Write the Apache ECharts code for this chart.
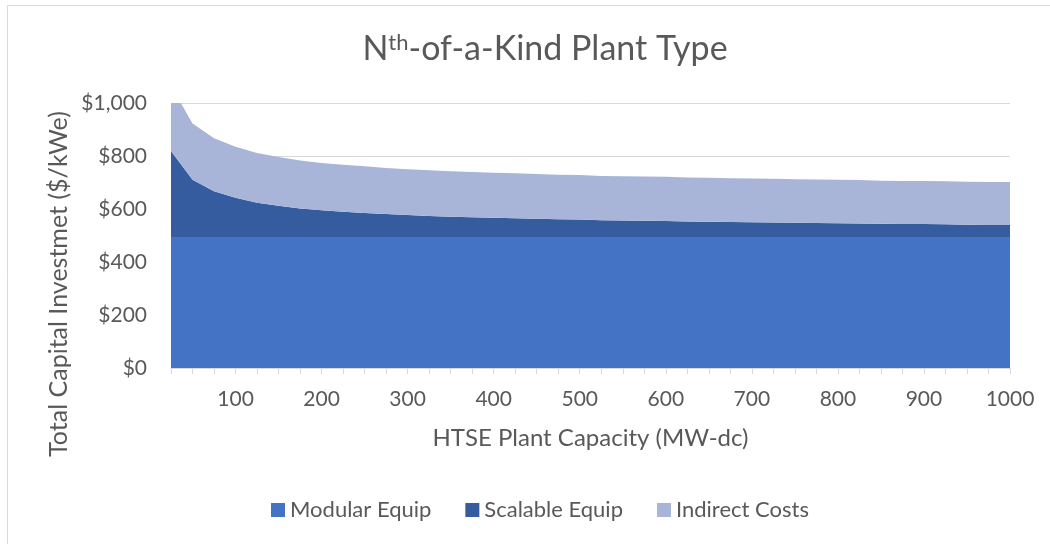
<!DOCTYPE html>
<html>
<head>
<meta charset="utf-8">
<script src="https://cdn.jsdelivr.net/npm/echarts@6/dist/echarts.min.js"></script>
<style>
html,body{margin:0;padding:0;background:#fff;}
#chart{width:1050px;height:544px;}
</style>
</head>
<body>
<div id="chart"></div>
<script>
var capacities = [25,50,75,100,125,150,175,200,225,250,275,300,325,350,375,400,425,450,475,500,525,550,575,600,625,650,675,700,725,750,775,800,825,850,875,900,925,950,975,1000];
var modularEquip = [494,494,494,494,494,494,494,494,494,494,494,494,494,494,494,494,494,494,494,494,494,494,494,494,494,494,494,494,494,494,494,494,494,494,494,494,494,494,494,494];
var scalableEquip = [325,216,173,148,130,118,108,101,96,91,87,83,80,77,75,73,71,69,67,66,64,63,62,61,59,58,57,56,55,54,53,52,51,50,49,49,48,47,46,46];
var indirectCosts = [246,213,200,193,187,184,181,179,177,176,174,173,172,171,171,170,170,169,168,168,167,167,167,167,166,166,165,165,165,164,164,164,164,163,163,163,163,162,162,162];
var xLabels = [100,200,300,400,500,600,700,800,900,1000];
var yTicks = [0,200,400,600,800,1000];

var FONT = 'Lato';
var TXT = '#595959';
var chart = echarts.init(document.getElementById('chart'), null, {renderer:'canvas'});

function areaSeries(name, data, color){
  return {
    name: name, type: 'line', stack: 'total', data: data,
    showSymbol: false, symbol: 'none',
    lineStyle: {width: 0},
    areaStyle: {color: color, opacity: 1},
    itemStyle: {color: color},
    clip: true, silent: true
  };
}

chart.setOption({
  animation: false,
  backgroundColor: '#fff',
  title: {
    text: 'N{sup|th}-of-a-Kind Plant Type',
    left: 540, top: 27, textAlign: 'center',
    textStyle: {
      fontFamily: FONT, fontSize: 34, fontWeight: 'normal', color: TXT,
      rich: { sup: {fontFamily: FONT, fontSize: 22, color: TXT, verticalAlign: 'top', padding:[0,0,13,0]} }
    }
  },
  legend: {
    data: ['Modular Equip','Scalable Equip','Indirect Costs'],
    left: 266, top: 494, icon: 'rect', itemWidth: 14, itemHeight: 14, itemGap: 34,
    textStyle: {fontFamily: FONT, fontSize: 22, color: TXT}
  },
  grid: {left: 171, right: 40, top: 103, bottom: 176, containLabel: false},
  xAxis: {
    type: 'category', data: capacities, boundaryGap: false,
    name: 'HTSE Plant Capacity (MW-dc)', nameLocation: 'middle', nameGap: 58,
    nameTextStyle: {fontFamily: FONT, fontSize: 24, color: TXT},
    axisLine: {lineStyle: {color: '#d9d9d9', width: 1}},
    axisTick: {show: true, interval: 0, length: 6, lineStyle: {color: '#d9d9d9'}},
    axisLabel: {
      interval: function(i, v){ return xLabels.indexOf(Number(v)) >= 0; },
      fontFamily: FONT, fontSize: 21, color: TXT, margin: 21
    },
    splitLine: {show: false}
  },
  yAxis: {
    type: 'value', min: yTicks[0], max: yTicks[yTicks.length-1], interval: 200,
    axisLine: {show: false}, axisTick: {show: false},
    axisLabel: {
      fontFamily: FONT, fontSize: 21, color: TXT, margin: 24,
      formatter: function(v){ return '$' + v.toLocaleString('en-US'); }
    },
    splitLine: {lineStyle: {color: '#d9d9d9', width: 1}}
  },
  graphic: [
    {type: 'line', shape: {x1: 7.5, y1: 5, x2: 7.5, y2: 544}, style: {stroke: '#d9d9d9', lineWidth: 1}, silent: true},
    {type: 'line', shape: {x1: 7, y1: 5.5, x2: 1050, y2: 5.5}, style: {stroke: '#d9d9d9', lineWidth: 1}, silent: true},
    {type: 'text', x: 59, y: 284, rotation: Math.PI / 2, silent: true,
     style: {text: 'Total Capital Investmet ($/kWe)', fontFamily: FONT, fontSize: 25, fill: TXT,
             textAlign: 'center', textVerticalAlign: 'middle'}}
  ],
  series: [
    areaSeries('Modular Equip', modularEquip, '#4472C4'),
    areaSeries('Scalable Equip', scalableEquip, '#355C9F'),
    areaSeries('Indirect Costs', indirectCosts, '#A8B5D9')
  ]
});
</script>
</body>
</html>
